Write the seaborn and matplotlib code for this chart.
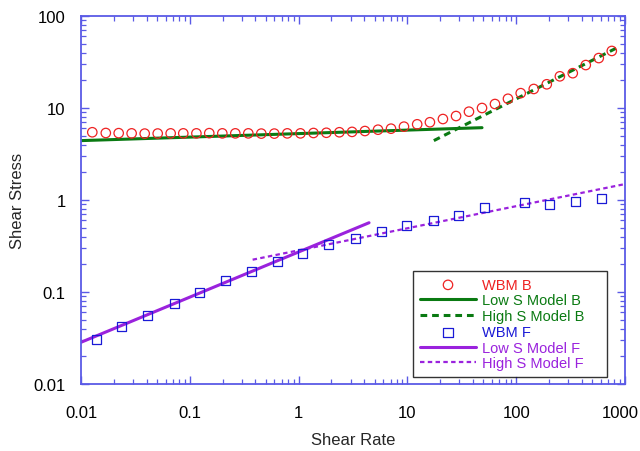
import matplotlib
matplotlib.use("Agg")
import matplotlib.pyplot as plt
import matplotlib.transforms as mtransforms
import seaborn as sns
import numpy as np
import pandas as pd

# ---- data ----
wbm_b_rate = [0.0127, 0.0169, 0.0222, 0.0292, 0.0385, 0.0507, 0.0667, 0.0871, 0.115, 0.151,
              0.199, 0.262, 0.345, 0.454, 0.598, 0.787, 1.04, 1.37, 1.80, 2.37,
              3.10, 4.07, 5.37, 7.07, 9.3, 12.3, 16.1, 21.2, 28.0, 36.8,
              48.5, 63.8, 84.0, 110, 145, 191, 252, 331, 436, 574, 756]
wbm_b_stress = [5.45, 5.35, 5.33, 5.30, 5.27, 5.28, 5.30, 5.30, 5.30, 5.33,
                5.30, 5.30, 5.30, 5.27, 5.27, 5.30, 5.30, 5.35, 5.38, 5.45,
                5.50, 5.62, 5.81, 5.96, 6.27, 6.65, 7.00, 7.59, 8.18, 9.12,
                10.0, 11.05, 12.6, 14.5, 16.1, 18.1, 22.1, 23.9, 29.3, 34.9, 41.7]

wbm_f_rate = [0.01374, 0.0237, 0.0406, 0.0716, 0.122, 0.214, 0.371, 0.640, 1.096, 1.90,
              3.32, 5.75, 9.91, 17.2, 29.8, 51.6, 118, 203, 352, 611]
wbm_f_stress = [0.0308, 0.0417, 0.0559, 0.0741, 0.0993, 0.1318, 0.168, 0.212, 0.265, 0.327,
                0.383, 0.452, 0.531, 0.606, 0.682, 0.834, 0.928, 0.898, 0.959, 1.04]

low_b_rate = [0.01, 48.5]
low_b_stress = [4.42, 6.11]
high_b_rate = [17.5, 900]
high_b_stress = [4.42, 46.9]

low_f_rate = [0.01, 4.44]
low_f_stress = [0.0284, 0.566]
high_f_rate = [0.378, 1000]
high_f_stress = [0.2245, 1.49]

x_ticks = [0.01, 0.1, 1, 10, 100, 1000]
x_tick_labels = ["0.01", "0.1", "1", "10", "100", "1000"]
y_ticks = [0.01, 0.1, 1, 10, 100]
y_tick_labels = ["0.01", "0.1", "1", "10", "100"]

# ---- styling ----
sns.set_theme(style="white")
plt.rcParams['font.family'] = ['Liberation Sans', 'DejaVu Sans']

RED = "#ee2222"
GREEN = "#0a7a12"
BLUE = "#1a1ad6"
PURPLE = "#9a22dd"
AXC = "#5a5ae6"

fig = plt.figure(figsize=(6.4, 4.52), dpi=100)
ax = fig.add_axes([81/640, 1-385/452, 544/640, 368/452])

df_b = pd.DataFrame({"x": wbm_b_rate, "y": wbm_b_stress})
df_f = pd.DataFrame({"x": wbm_f_rate, "y": wbm_f_stress})

sns.scatterplot(data=df_b, x="x", y="y", ax=ax, marker="o", s=46,
                facecolors="none", edgecolor=RED, linewidth=0.9, label="WBM B", zorder=3)
sns.lineplot(x=low_b_rate, y=low_b_stress, ax=ax, color=GREEN, linewidth=2.2,
             label="Low S Model B", zorder=2)
sns.lineplot(x=high_b_rate, y=high_b_stress, ax=ax, color=GREEN, linewidth=2.2,
             linestyle=(0, (2.2, 1.6)), label="High S Model B", zorder=2)
sns.scatterplot(data=df_f, x="x", y="y", ax=ax, marker="s", s=42,
                facecolors="none", edgecolor=BLUE, linewidth=0.9, label="WBM F", zorder=3)
sns.lineplot(x=low_f_rate, y=low_f_stress, ax=ax, color=PURPLE, linewidth=2.2,
             label="Low S Model F", zorder=2)
sns.lineplot(x=high_f_rate, y=high_f_stress, ax=ax, color=PURPLE, linewidth=1.6,
             linestyle=(0, (2.0, 1.5)), label="High S Model F", zorder=2)

ax.set_xscale("log")
ax.set_yscale("log")
ax.set_xlim(0.01, 1000)
ax.set_ylim(0.01, 100)

ax.set_xticks(x_ticks)
ax.set_xticklabels(x_tick_labels)
ax.set_yticks(y_ticks)
ax.set_yticklabels(y_tick_labels)

ax.set_xlabel("Shear Rate", fontsize=12, labelpad=9)
ax.set_ylabel("Shear Stress", fontsize=12, labelpad=6)

for s in ax.spines.values():
    s.set_color(AXC)
    s.set_linewidth(1.3)
    s.set_visible(True)

ax.tick_params(which="both", direction="in", top=True, right=True, bottom=True, left=True,
               color=AXC, labelcolor="black", labelsize=12)
ax.tick_params(which="major", length=6, width=1.0)
ax.tick_params(axis="x", which="major", pad=15)
ax.tick_params(axis="y", which="major", pad=11)
ax.tick_params(which="minor", length=3.5, width=0.9)
ax.grid(False)

# nudge the last x tick label so it stays inside the figure
last = ax.get_xticklabels()[-1]
last.set_transform(last.get_transform() + mtransforms.ScaledTranslation(-5/100, 0, fig.dpi_scale_trans))

leg = ax.legend(loc="lower left", bbox_to_anchor=(332/544, 7/368, 194/544, 106/368),
                mode="expand", frameon=True,
                fancybox=False, edgecolor="black", fontsize=10.5, handlelength=3.9,
                borderpad=0.45, labelspacing=0.12, handletextpad=0.4, borderaxespad=0)
leg.get_frame().set_linewidth(1.0)
text_colors = [RED, GREEN, GREEN, BLUE, PURPLE, PURPLE]
for t, c in zip(leg.get_texts(), text_colors):
    t.set_color(c)

fig.savefig("out.png", dpi=100)
